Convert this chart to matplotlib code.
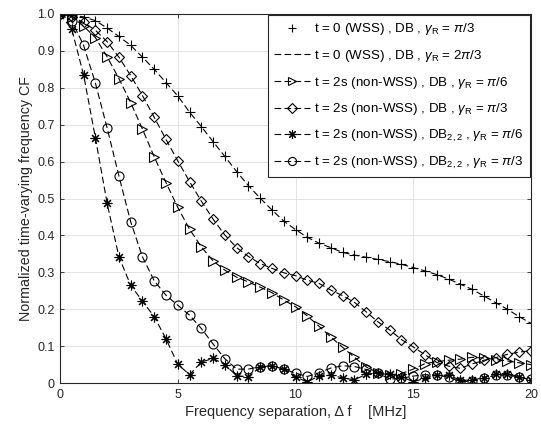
import numpy as np
import matplotlib
matplotlib.use("Agg")
import matplotlib.pyplot as plt

plt.rcParams['font.family'] = ['Liberation Sans', 'DejaVu Sans']
plt.rcParams['mathtext.fontset'] = 'custom'
plt.rcParams['mathtext.rm'] = 'Liberation Sans'
plt.rcParams['mathtext.it'] = 'Liberation Sans:italic'

# frequency separation [MHz], one point every 0.5 MHz
freq = np.arange(0, 20.5, 0.5)

# t = 0 (WSS), DB (same curve for gamma_R = pi/3 and 2pi/3)
cf_wss = [1.0, 0.997, 0.992, 0.982, 0.962, 0.939, 0.915, 0.883, 0.850, 0.814,
          0.778, 0.734, 0.695, 0.654, 0.614, 0.573, 0.535, 0.501, 0.469, 0.439,
          0.416, 0.395, 0.379, 0.367, 0.354, 0.347, 0.341, 0.335, 0.329, 0.322,
          0.313, 0.304, 0.294, 0.282, 0.268, 0.254, 0.236, 0.218, 0.200, 0.180, 0.162]
# t = 2s, DB, gamma_R = pi/6
cf_db_pi6 = [1.0, 0.993, 0.967, 0.936, 0.884, 0.825, 0.760, 0.688, 0.613, 0.543,
             0.476, 0.417, 0.369, 0.331, 0.306, 0.287, 0.274, 0.260, 0.245, 0.225,
             0.207, 0.182, 0.154, 0.125, 0.097, 0.070, 0.044, 0.028, 0.022, 0.026,
             0.038, 0.053, 0.058, 0.062, 0.065, 0.070, 0.068, 0.064, 0.060, 0.055, 0.050]
# t = 2s, DB, gamma_R = pi/3
cf_db_pi3 = [1.0, 0.993, 0.977, 0.956, 0.925, 0.883, 0.833, 0.779, 0.720, 0.660,
             0.602, 0.546, 0.493, 0.444, 0.401, 0.367, 0.343, 0.324, 0.311, 0.299,
             0.291, 0.279, 0.270, 0.252, 0.237, 0.219, 0.193, 0.166, 0.144, 0.118,
             0.098, 0.077, 0.056, 0.046, 0.040, 0.052, 0.062, 0.069, 0.078, 0.084, 0.088]
# t = 2s, DB_{2,2}, gamma_R = pi/6
cf_db22_pi6 = [1.0, 0.958, 0.835, 0.665, 0.487, 0.342, 0.265, 0.222, 0.180, 0.120,
               0.051, 0.023, 0.057, 0.067, 0.050, 0.020, 0.017, 0.044, 0.047, 0.038,
               0.017, 0.003, 0.020, 0.022, 0.014, 0.009, 0.024, 0.028, 0.026, 0.017,
               0.004, 0.013, 0.022, 0.021, 0.008, 0.008, 0.015, 0.026, 0.026, 0.017, 0.008]
# t = 2s, DB_{2,2}, gamma_R = pi/3
cf_db22_pi3 = [1.0, 0.981, 0.915, 0.813, 0.691, 0.561, 0.437, 0.342, 0.277, 0.238,
               0.211, 0.184, 0.148, 0.106, 0.066, 0.038, 0.038, 0.045, 0.047, 0.038,
               0.027, 0.018, 0.028, 0.041, 0.047, 0.045, 0.037, 0.027, 0.011, 0.013,
               0.019, 0.023, 0.022, 0.016, 0.004, 0.005, 0.014, 0.021, 0.022, 0.016, 0.010]

labels = [r't = 0 (WSS) , DB , $\gamma_{\rm R}$ = $\pi$/3',
          r't = 0 (WSS) , DB , $\gamma_{\rm R}$ = 2$\pi$/3',
          r't = 2s (non-WSS) , DB , $\gamma_{\rm R}$ = $\pi$/6',
          r't = 2s (non-WSS) , DB , $\gamma_{\rm R}$ = $\pi$/3',
          r't = 2s (non-WSS) , DB$_{2,2}$ , $\gamma_{\rm R}$ = $\pi$/6',
          r't = 2s (non-WSS) , DB$_{2,2}$ , $\gamma_{\rm R}$ = $\pi$/3']

txt = '#262626'
fig = plt.figure(figsize=(5.41, 4.30), dpi=100)
ax = fig.add_axes([0.111, 0.109, 0.8705, 0.8585])

dash = (0, (6, 3))
kw = dict(color='black', lw=0.8, markersize=7, markerfacecolor='none',
          markeredgewidth=0.8)
ax.plot(freq, cf_wss, linestyle='none', marker='+', label=labels[0], **kw)
ax.plot(freq, cf_wss, linestyle=dash, label=labels[1], **kw)
ax.plot(freq, cf_db_pi6, linestyle=dash, marker='>', label=labels[2], **kw)
ax.plot(freq, cf_db_pi3, linestyle=dash, marker='D', label=labels[3],
        **{**kw, 'markersize': 5.5})
ax.plot(freq, cf_db22_pi6, linestyle=dash, marker=(8, 2, 0), label=labels[4], **kw)
ax.plot(freq, cf_db22_pi3, linestyle=dash, marker='o', label=labels[5],
        **{**kw, 'markersize': 6.5})

ax.set_xlim(0, 20)
ax.set_ylim(0, 1.0)
ax.set_xticks([0, 5, 10, 15, 20])
ax.set_yticks(np.arange(0, 1.01, 0.1))
ax.set_yticklabels(['0', '0.1', '0.2', '0.3', '0.4', '0.5', '0.6', '0.7',
                    '0.8', '0.9', '1.0'])
ax.grid(True, color='#dedede', lw=0.6)
ax.set_axisbelow(True)
ax.tick_params(direction='in', top=True, right=True, length=3, width=0.6,
               labelsize=9, colors=txt, labelcolor=txt, pad=4)
for s in ax.spines.values():
    s.set_color(txt)
    s.set_linewidth(0.8)

ax.set_xlabel('Frequency separation, Δ f    [MHz]', fontsize=10.5, color=txt, labelpad=3)
ax.set_ylabel('Normalized time-varying frequency CF', fontsize=10.3, color=txt, labelpad=3)

leg = ax.legend(loc='upper right', fontsize=9.6, frameon=True, fancybox=False,
                borderaxespad=0.1, handlelength=2.7, handletextpad=0.3,
                labelspacing=0.8, borderpad=0.45, markerscale=0.9)
leg.get_frame().set_edgecolor(txt)
leg.get_frame().set_linewidth(0.8)
leg.get_frame().set_alpha(1)

fig.savefig('out.png', dpi=100)
